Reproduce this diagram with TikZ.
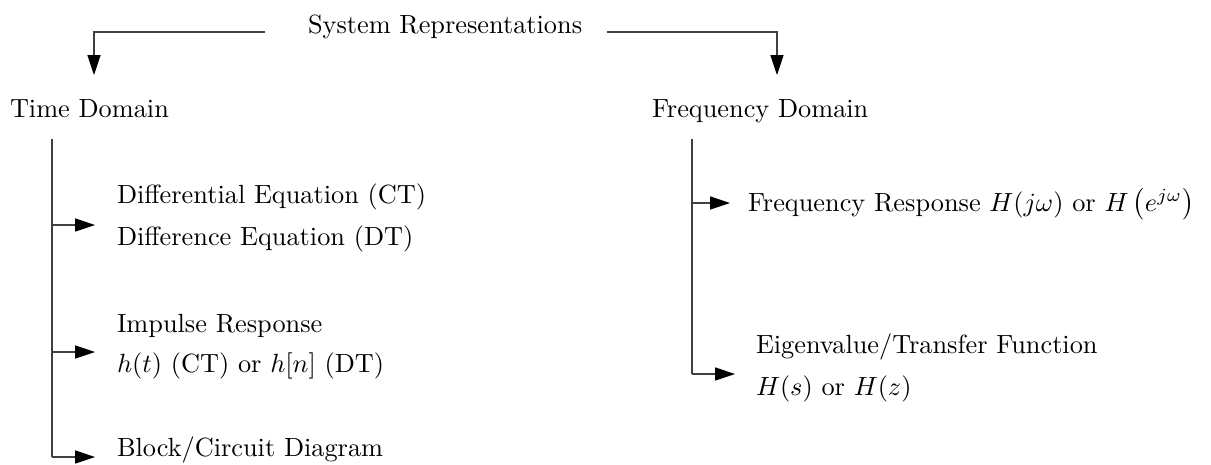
\documentclass[tikz,border=0pt]{standalone}
\usetikzlibrary{arrows.meta}
\begin{document}
\begin{tikzpicture}[x=0.3802pt,y=-0.3802pt,
  lbl/.style={anchor=base west,inner sep=0pt,outer sep=0pt},
  conn/.style={line width=0.4pt,draw=black!75},
  arr/.style={conn,-{Triangle[length=7.6pt,width=5pt,color=black]}}]
\path[use as bounding box] (0,0) rectangle (1211,464);
% titles
\node[lbl] (sys) at (308,33) {System Representations};
\node[lbl] (time) at (10,117) {Time Domain};
\node[lbl] (freq) at (652,117) {Frequency Domain};
% top connectors
\coordinate (sysL) at (265,32);
\coordinate (sysR) at (607,32);
\coordinate (timeIn) at (94,75);
\coordinate (freqIn) at (777,75);
\draw[arr] (sysL) -| (timeIn);
\draw[arr] (sysR) -| (freqIn);
% time domain items
\node[lbl] (de1) at (117,203) {Differential Equation (CT)};
\node[lbl] (de2) at (117,245) {Difference Equation (DT)};
\node[lbl] (ir1) at (117,332) {Impulse Response};
\node[lbl] (ir2) at (117,372) {$h(t)$ (CT) or $h[n]$ (DT)};
\node[lbl] (bd)  at (117,456) {Block/Circuit Diagram};
\coordinate (tTop) at (52,139);
\coordinate (tA) at (52,225);
\coordinate (tB) at (52,352);
\coordinate (tC) at (52,457);
\coordinate (deIn) at (95,225);
\coordinate (irIn) at (95,352);
\coordinate (bdIn) at (95,457);
\draw[conn] (tTop) -- (tA);
\draw[conn] (tA) -- (tB) -- (tC);
\draw[arr] (tA) -- (deIn);
\draw[arr] (tB) -- (irIn);
\draw[arr] (tC) -- (bdIn);
% frequency domain items
\node[lbl] (fr) at (748,211) {Frequency Response $H(j\omega)$ or $H\left(e^{j\omega}\right)$};
\node[lbl] (ev1) at (756,353) {Eigenvalue/Transfer Function};
\node[lbl] (ev2) at (756,395) {$H(s)$ or $H(z)$};
\coordinate (fTop) at (692,139);
\coordinate (fA) at (692,203);
\coordinate (fB) at (692,374);
\coordinate (frIn) at (730,203);
\coordinate (evIn) at (735,374);
\draw[conn] (fTop) -- (fA) -- (fB);
\draw[arr] (fA) -- (frIn);
\draw[arr] (fB) -- (evIn);
\end{tikzpicture}
\end{document}
